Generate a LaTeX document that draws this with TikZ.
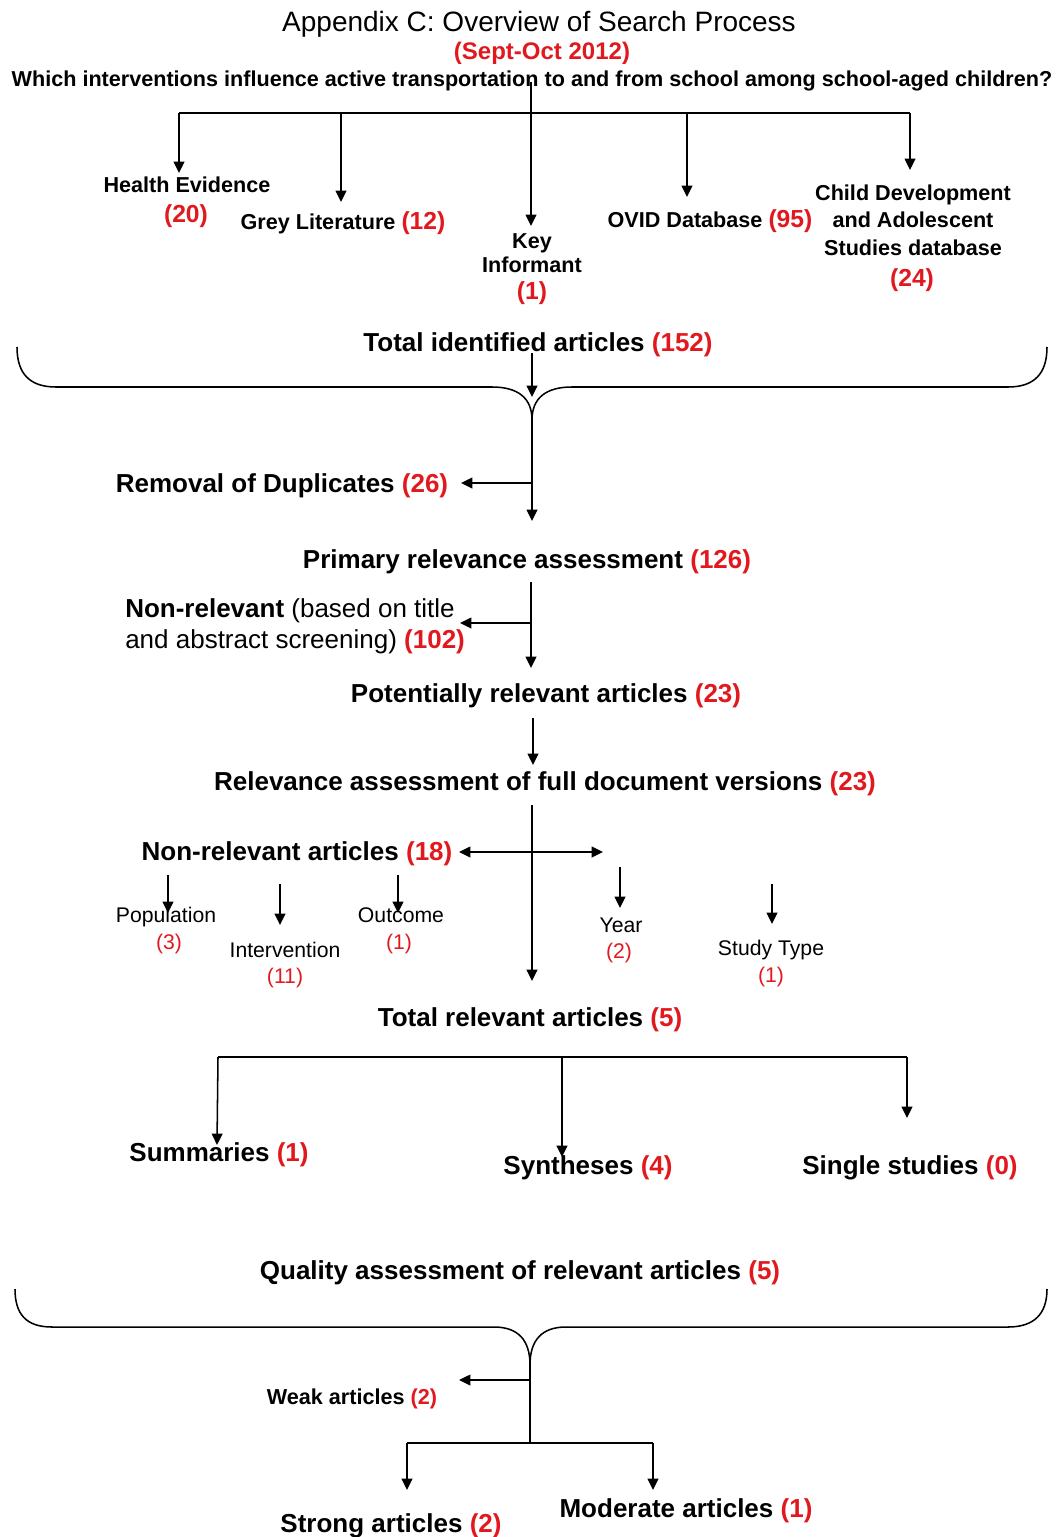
\documentclass[tikz,border=0pt]{standalone}
\usepackage{fontspec}
\setmainfont{Liberation Sans}
\usetikzlibrary{arrows.meta}
\definecolor{numred}{RGB}{225,25,30}
\newcommand{\cnt}[1]{\textcolor{numred}{(#1)}}
\newcommand{\bigcnt}[1]{{\fontsize{18.5}{22}\selectfont\cnt{#1}}}
\tikzset{
  txt/.style={inner sep=0pt, text depth=0pt},
  head/.style={txt, text height=15pt, font=\fontsize{21}{25}\selectfont},
  stage/.style={txt, text height=14pt, font=\bfseries\fontsize{19.5}{23}\selectfont},
  source/.style={txt, text height=11.7pt, font=\bfseries\fontsize{16.2}{19}\selectfont},
  reason/.style={txt, text height=11.4pt, font=\fontsize{15.9}{19}\selectfont},
  link/.style={line width=1.15pt},
  flow/.style={link, -{Triangle[length=8.5pt,width=8pt]}},
  both/.style={link, {Triangle[length=8.5pt,width=8pt]}-{Triangle[length=8.5pt,width=8pt]}}
}
\begin{document}
\begin{tikzpicture}[x=0.75pt,y=-0.75pt]
  \useasboundingbox (0,0) rectangle (1062,1537);
  \draw
    (539,22) node[head] (title){Appendix C: Overview of Search Process}
    (542,51) node[txt, text height=13pt, text=numred, font=\bfseries\fontsize{18}{22}\selectfont] (date){(Sept-Oct 2012)}
    (532,79) node[source] (question){Which interventions influence active transportation to and from school among school-aged children?}
    (187,185) node[source] (health){Health Evidence}
    (186,215) node[source] (health-n){\bigcnt{20}}
    (343,222) node[source] (grey){Grey Literature \bigcnt{12}}
    (532,241) node[source] (key){Key}
    (532,265) node[source] (key-b){Informant}
    (532,292) node[source] (key-n){\bigcnt{1}}
    (710,220) node[source] (ovid){OVID Database \bigcnt{95}}
    (913,193) node[source] (child){Child Development}
    (913,220) node[source] (child-b){and Adolescent}
    (913,248) node[source] (child-c){Studies database}
    (912,279) node[source] (child-n){\bigcnt{24}};
  \draw
    (538,342) node[stage] (identified){Total identified articles \cnt{152}}
    (282,483) node[stage] (dupes){Removal of Duplicates \cnt{26}}
    (527,559) node[stage] (primary){Primary relevance assessment \cnt{126}}
    (125,608) node[stage, anchor=west] (nonrel){Non-relevant \mdseries(based on title}
    (125,639) node[stage, anchor=west] (nonrel-b){\mdseries and abstract screening) \bfseries\cnt{102}}
    (546,693) node[stage] (potential){Potentially relevant articles \cnt{23}}
    (545,781) node[stage] (fulltext){Relevance assessment of full document versions \cnt{23}}
    (297,851) node[stage] (excluded){Non-relevant articles \cnt{18}}
    (166,915) node[reason] (pop){Population}
    (169,942) node[reason] (pop-n){\cnt{3}}
    (285,950) node[reason] (int){Intervention}
    (285,976) node[reason] (int-n){\cnt{11}}
    (401,915) node[reason] (out){Outcome}
    (399,942) node[reason] (out-n){\cnt{1}}
    (621,925) node[reason] (year){Year}
    (619,951) node[reason] (year-n){\cnt{2}}
    (771,948) node[reason] (type){Study Type}
    (771,975) node[reason] (type-n){\cnt{1}}
    (530,1017) node[stage] (relevant){Total relevant articles \cnt{5}}
    (219,1152) node[stage] (summ){Summaries \cnt{1}}
    (588,1165) node[stage] (synth){Syntheses \cnt{4}}
    (910,1165) node[stage] (single){Single studies \cnt{0}}
    (520,1270) node[stage] (quality){Quality assessment of relevant articles \cnt{5}}
    (352,1397) node[source] (weak){Weak articles \cnt{2}}
    (391,1523) node[stage] (strong){Strong articles \cnt{2}}
    (686,1508) node[stage] (moderate){Moderate articles \cnt{1}};
  % junctions and arrow tips
  \coordinate (q-foot) at (531,82);
  \coordinate (bar-h) at (179,113);
  \coordinate (bar-g) at (341,113);
  \coordinate (bar-o) at (687,113);
  \coordinate (bar-c) at (910,113);
  \coordinate (to-health) at (179,173);
  \coordinate (to-grey) at (341,202);
  \coordinate (to-key) at (531,226);
  \coordinate (to-ovid) at (687,197);
  \coordinate (to-child) at (910,170);
  \coordinate (id-foot) at (532,353);
  \coordinate (to-brace) at (532,397);
  \coordinate (cusp-a) at (532,420);
  \coordinate (j-dupes) at (532,483);
  \coordinate (to-dupes) at (461,483);
  \coordinate (to-primary) at (532,521);
  \coordinate (pr-foot) at (531,582);
  \coordinate (j-nonrel) at (531,623);
  \coordinate (to-nonrel) at (460,623);
  \coordinate (to-potential) at (531,668);
  \coordinate (po-foot) at (533,718);
  \coordinate (to-fulltext) at (533,765);
  \coordinate (ft-foot) at (532,805);
  \coordinate (to-relevant) at (532,981);
  \coordinate (to-excluded) at (459,852);
  \coordinate (to-other) at (603,852);
  \coordinate (bar2-s) at (218,1057);
  \coordinate (bar2-y) at (562,1057);
  \coordinate (bar2-i) at (907,1057);
  \coordinate (to-summ) at (217,1145);
  \coordinate (to-synth) at (562,1157);
  \coordinate (to-single) at (907,1118);
  \coordinate (cusp-b) at (530,1365);
  \coordinate (j-weak) at (530,1380);
  \coordinate (to-weak) at (459,1380);
  \coordinate (bar3) at (530,1443);
  \coordinate (bar3-s) at (407,1443);
  \coordinate (bar3-m) at (653,1443);
  \coordinate (to-strong) at (407,1490);
  \coordinate (to-moderate) at (653,1490);
  % sources
  \draw[link] (bar-h) -- (bar-c);
  \begin{scope}[flow]
    \draw (q-foot) to (to-key);
    \draw (bar-h) to (to-health);
    \draw (bar-g) to (to-grey);
    \draw (bar-o) to (to-ovid);
    \draw (bar-c) to (to-child);
    \draw (id-foot) to (to-brace);
  \end{scope}
  % first brace
  \draw[link] (17,347) .. controls (17,374) and (30,387) .. (56,387) -- (492,387)
    .. controls (518,387) and (532,398) .. (cusp-a)
    .. controls (532,398) and (546,387) .. (572,387) -- (1008,387)
    .. controls (1034,387) and (1047,374) .. (1047,347);
  \begin{scope}[flow]
    \draw (cusp-a) to (to-primary);
    \draw (j-dupes) to (to-dupes);
    \draw (pr-foot) to (to-potential);
    \draw (j-nonrel) to (to-nonrel);
    \draw (po-foot) to (to-fulltext);
    \draw (ft-foot) to (to-relevant);
  \end{scope}
  \draw[both] (to-excluded) -- (to-other);
  % reasons
  \begin{scope}[flow]
    \draw (168,875) to (168,913);
    \draw (280,884) to (280,925);
    \draw (398,875) to (398,913);
    \draw (620,867) to (620,908);
    \draw (772,884) to (772,924);
  \end{scope}
  % article types
  \draw[link] (bar2-s) -- (bar2-i);
  \begin{scope}[flow]
    \draw (bar2-s) to (to-summ);
    \draw (bar2-y) to (to-synth);
    \draw (bar2-i) to (to-single);
  \end{scope}
  % second brace
  \draw[link] (15,1289) .. controls (15,1314) and (26,1327) .. (52,1327) -- (494,1327)
    .. controls (518,1327) and (530,1340) .. (cusp-b)
    .. controls (530,1340) and (542,1327) .. (566,1327) -- (1008,1327)
    .. controls (1034,1327) and (1047,1314) .. (1047,1289);
  \draw[link] (cusp-b) -- (bar3);
  \draw[link] (bar3-s) -- (bar3-m);
  \begin{scope}[flow]
    \draw (j-weak) to (to-weak);
    \draw (bar3-s) to (to-strong);
    \draw (bar3-m) to (to-moderate);
  \end{scope}
\end{tikzpicture}
\end{document}
